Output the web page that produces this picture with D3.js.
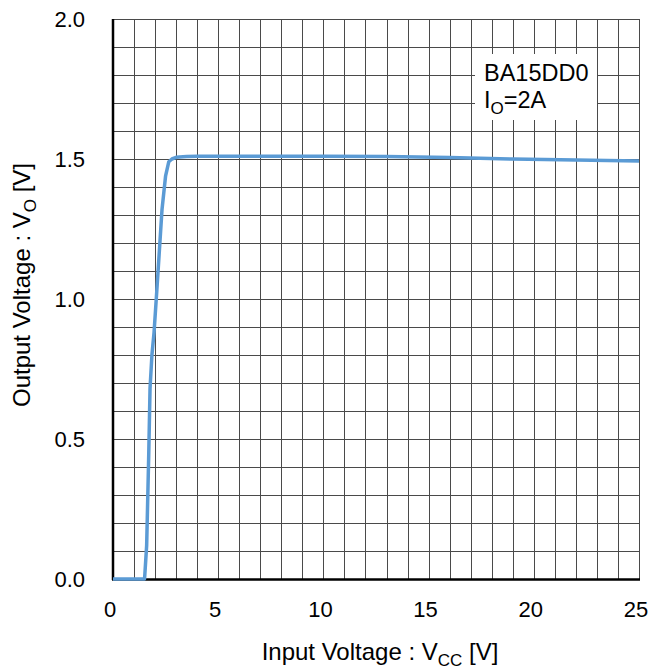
<!DOCTYPE html>
<meta charset='utf-8'>
<head>
  <style>
    body { margin: 0; background: #fff; }
    text { font-family: 'Liberation Sans', Arial, sans-serif; fill: #000; }
  </style>
</head>
<body>
<script src='https://d3js.org/d3.v7.min.js'></script>
<script>

// input voltage [V] and output voltage [V]
var vcc = [0, 1.0, 1.5, 1.6, 1.7, 1.76, 1.85, 1.95, 2.1, 2.33, 2.5, 2.65, 2.8, 3.0, 3.5, 4, 5, 7, 10, 13, 16, 19, 22, 25];
var vo  = [0, 0, 0, 0.12, 0.45, 0.68, 0.8, 0.88, 1.05, 1.32, 1.44, 1.49, 1.50, 1.506, 1.509, 1.51, 1.51, 1.51, 1.51, 1.509, 1.505, 1.5, 1.496, 1.493];
var xTicks = [0, 5, 10, 15, 20, 25];
var yTicks = [0, 0.5, 1.0, 1.5, 2.0];

var margin = {top: 19, left: 113};

var x = d3.scaleLinear().domain([0, 25]).range([0, 526]),
    y = d3.scaleLinear().domain([0, 2]).range([560, 0]);

var svg = d3.select('body').append('svg')
    .attr('width', 664)
    .attr('height', 669);

var g = svg.append('g')
    .attr('transform', 'translate(' + margin.left + ',' + margin.top + ')');

// grid
g.selectAll('.vgrid')
    .data(d3.range(0, 26))
  .enter().append('line')
    .attr('x1', d => Math.round(x(d)) + 0.5)
    .attr('x2', d => Math.round(x(d)) + 0.5)
    .attr('y1', 0)
    .attr('y2', 560)
    .style('stroke', '#4a4a4a')
    .style('stroke-width', 1);

g.selectAll('.hgrid')
    .data(d3.range(0, 21).map(i => i / 10))
  .enter().append('line')
    .attr('x1', 0)
    .attr('x2', 526)
    .attr('y1', d => Math.round(y(d)) + 0.5)
    .attr('y2', d => Math.round(y(d)) + 0.5)
    .style('stroke', '#4a4a4a')
    .style('stroke-width', 1);

// label box
g.append('rect')
    .attr('x', 362).attr('y', 35)
    .attr('width', 122).attr('height', 66)
    .style('fill', '#fff');

var lab = g.append('text')
    .attr('x', 371).attr('y', 62)
    .style('font-size', '23.5px');
lab.append('tspan').text('BA15DD0');
var lab2 = g.append('text')
    .attr('x', 371).attr('y', 89)
    .style('font-size', '23.5px');
lab2.append('tspan').text('I');
lab2.append('tspan').attr('dy', 6).style('font-size', '17px').text('O');
lab2.append('tspan').attr('dy', -6).text('=2A');

// axes
g.append('line')
    .attr('x1', 0).attr('x2', 0).attr('y1', 0).attr('y2', 561)
    .style('stroke', '#000').style('stroke-width', 2.5);
g.append('line')
    .attr('x1', -1).attr('x2', 527).attr('y1', 560.5).attr('y2', 560.5)
    .style('stroke', '#000').style('stroke-width', 2.5);

// curve
var line = d3.line()
    .x((d, i) => x(vcc[i]))
    .y(d => y(d));

g.append('path')
    .datum(vo)
    .attr('d', line)
    .style('fill', 'none')
    .style('stroke', '#5b9bd5')
    .style('stroke-width', 3.5)
    .style('stroke-linejoin', 'round');

// tick labels
g.selectAll('.xt')
    .data(xTicks)
  .enter().append('text')
    .attr('x', d => x(d) - 3)
    .attr('y', 598)
    .style('text-anchor', 'middle')
    .style('font-size', '22px')
    .text(d => d);

g.selectAll('.yt')
    .data(yTicks)
  .enter().append('text')
    .attr('x', -28)
    .attr('y', d => y(d) + 8)
    .style('text-anchor', 'end')
    .style('font-size', '22px')
    .text(d => d.toFixed(1));

// axis titles
var xt = svg.append('text')
    .attr('x', 380).attr('y', 660)
    .style('text-anchor', 'middle')
    .style('font-size', '24px');
xt.append('tspan').text('Input Voltage : V');
xt.append('tspan').attr('dy', 6).style('font-size', '17px').text('CC');
xt.append('tspan').attr('dy', -6).text(' [V]');

var yt = svg.append('text')
    .attr('transform', 'translate(30,285) rotate(-90)')
    .style('text-anchor', 'middle')
    .style('font-size', '24px');
yt.append('tspan').text('Output Voltage : V');
yt.append('tspan').attr('dy', 6).style('font-size', '17px').text('O');
yt.append('tspan').attr('dy', -6).text(' [V]');

</script>
</body>
